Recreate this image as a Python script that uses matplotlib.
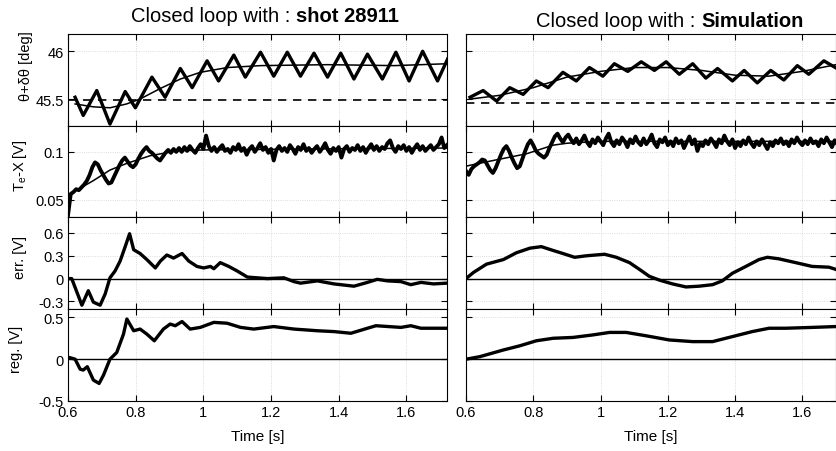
import numpy as np
import matplotlib.pyplot as plt
from matplotlib.ticker import FuncFormatter

plt.rcParams['font.family'] = ['Liberation Sans', 'DejaVu Sans']
plt.rcParams['mathtext.fontset'] = 'custom'
plt.rcParams['mathtext.rm'] = 'Liberation Sans'
plt.rcParams['mathtext.it'] = 'Liberation Sans:italic'

# ---------------- data ----------------
# row 1 : theta + dtheta [deg]
th_shot_t = [0.621, 0.645, 0.685, 0.724, 0.769, 0.799, 0.848, 0.887, 0.932, 0.967,
             1.011, 1.045, 1.090, 1.124, 1.169, 1.208, 1.248, 1.287, 1.327, 1.367,
             1.406, 1.445, 1.485, 1.529, 1.569, 1.608, 1.648, 1.692, 1.722]
th_shot_v = [45.52, 45.33, 45.59, 45.24, 45.58, 45.41, 45.73, 45.52, 45.82, 45.62,
             45.90, 45.69, 45.96, 45.73, 45.99, 45.74, 45.99, 45.74, 45.98, 45.73,
             45.98, 45.71, 45.97, 45.71, 45.99, 45.69, 46.00, 45.69, 45.92]
th_shot_fit_t = [0.621, 0.675, 0.724, 0.773, 0.812, 0.872, 0.932, 0.991, 1.071, 1.169,
                 1.367, 1.564, 1.722]
th_shot_fit_v = [45.45, 45.42, 45.41, 45.45, 45.50, 45.61, 45.71, 45.78, 45.83, 45.85,
                 45.86, 45.85, 45.87]
th_shot_ref = 45.49

th_sim_t = [0.612, 0.651, 0.691, 0.730, 0.770, 0.809, 0.844, 0.888, 0.928, 0.967,
            1.007, 1.041, 1.081, 1.121, 1.160, 1.195, 1.234, 1.274, 1.313, 1.348,
            1.392, 1.427, 1.466, 1.506, 1.545, 1.585, 1.619, 1.664, 1.698]
th_sim_v = [45.52, 45.59, 45.48, 45.62, 45.55, 45.69, 45.62, 45.78, 45.69, 45.83,
            45.74, 45.87, 45.79, 45.89, 45.80, 45.89, 45.76, 45.87, 45.72, 45.82,
            45.69, 45.80, 45.67, 45.80, 45.70, 45.85, 45.76, 45.90, 45.83]
th_sim_fit_t = [0.61, 0.70, 0.80, 0.90, 1.00, 1.10, 1.20, 1.30, 1.40, 1.50, 1.60, 1.70]
th_sim_fit_v = [45.50, 45.54, 45.62, 45.73, 45.79, 45.83, 45.83, 45.80, 45.75, 45.74,
                45.79, 45.86]
th_sim_ref = 45.46

# row 2 : Te - X [V], sampled every 8 ms from 0.6 s
tx_shot_v = [0.034, 0.056, 0.058, 0.061, 0.060, 0.063, 0.066, 0.070, 0.076, 0.084,
             0.089, 0.087, 0.081, 0.076, 0.071, 0.067, 0.068, 0.074, 0.080, 0.086,
             0.091, 0.094, 0.090, 0.086, 0.084, 0.087, 0.093, 0.098, 0.102, 0.105,
             0.101, 0.099, 0.096, 0.093, 0.091, 0.095, 0.099, 0.102, 0.099, 0.103,
             0.100,
             0.104, 0.100, 0.105, 0.101, 0.106, 0.102, 0.099, 0.104, 0.108, 0.103,
             0.117, 0.106, 0.101, 0.105, 0.100, 0.104, 0.107, 0.101, 0.103, 0.099,
             0.105, 0.102, 0.108, 0.101, 0.104, 0.097, 0.103, 0.106, 0.100, 0.104,
             0.109, 0.102, 0.105, 0.099, 0.103, 0.091, 0.102, 0.106, 0.101, 0.104,
             0.100, 0.107, 0.103, 0.098, 0.105, 0.102, 0.108, 0.101, 0.104, 0.099,
             0.103, 0.106, 0.100, 0.104, 0.109, 0.102, 0.098, 0.104, 0.101, 0.105,
             0.094, 0.103, 0.106, 0.100, 0.104, 0.102, 0.107, 0.101, 0.105, 0.099,
             0.104, 0.108, 0.102, 0.106, 0.101, 0.105, 0.103, 0.109, 0.112, 0.104,
             0.100, 0.106, 0.103, 0.107, 0.101, 0.105, 0.099, 0.104, 0.108, 0.102,
             0.106, 0.101, 0.104, 0.107, 0.102, 0.105, 0.108, 0.115, 0.104, 0.107]
tx_sim_v = [0.080, 0.076, 0.082, 0.085, 0.087, 0.089, 0.092, 0.091, 0.086, 0.081,
            0.078, 0.083, 0.090, 0.097, 0.103, 0.106, 0.101, 0.094, 0.088, 0.083,
            0.085, 0.093, 0.101, 0.108, 0.112, 0.107, 0.101, 0.098, 0.096, 0.094,
            0.097, 0.104, 0.110, 0.116, 0.119, 0.114, 0.110, 0.115, 0.118, 0.113,
            0.109, 0.114, 0.108, 0.112, 0.117, 0.110, 0.106, 0.113, 0.109, 0.115,
            0.111, 0.107, 0.114, 0.119, 0.110, 0.106, 0.112, 0.108, 0.115, 0.111,
            0.105, 0.113, 0.109, 0.116, 0.110, 0.107, 0.114, 0.108, 0.112, 0.118,
            0.109, 0.105, 0.113, 0.110, 0.115, 0.107, 0.111, 0.106, 0.114, 0.109,
            0.112, 0.104, 0.110, 0.116, 0.108, 0.113, 0.101, 0.109, 0.106, 0.112,
            0.108, 0.114, 0.110, 0.105, 0.113, 0.109, 0.117, 0.111, 0.107, 0.113,
            0.104, 0.110, 0.106, 0.112, 0.108, 0.115, 0.109, 0.105, 0.111, 0.107,
            0.113, 0.108, 0.103, 0.110, 0.106, 0.112, 0.109, 0.114, 0.108, 0.111,
            0.106, 0.113, 0.109, 0.115, 0.110, 0.107, 0.112, 0.108, 0.114, 0.109,
            0.111, 0.106, 0.113, 0.109, 0.115, 0.110, 0.105, 0.112, 0.108, 0.114,
            0.110]
tx_t = np.linspace(0.6, 1.72, len(tx_shot_v))
tx_shot_fit_t = [0.600, 0.616, 0.675, 0.724, 0.774, 0.843, 0.922, 1.00, 1.30, 1.72]
tx_shot_fit_v = [0.055, 0.058, 0.070, 0.081, 0.088, 0.096, 0.101, 0.102, 0.103, 0.104]
tx_sim_fit_t = [0.600, 0.612, 0.681, 0.780, 0.859, 0.900, 1.00, 1.70]
tx_sim_fit_v = [0.085, 0.086, 0.091, 0.098, 0.107, 0.109, 0.111, 0.111]

# row 3 : err. [V]
err_shot_t = [0.600, 0.611, 0.641, 0.660, 0.675, 0.695, 0.710, 0.724, 0.739, 0.754,
              0.769, 0.782, 0.794, 0.813, 0.833, 0.858, 0.873, 0.892, 0.912, 0.937,
              0.957, 0.981, 1.001, 1.021, 1.031, 1.050, 1.075, 1.100, 1.130, 1.189,
              1.238, 1.268, 1.287, 1.337, 1.386, 1.445, 1.485, 1.514, 1.544, 1.584,
              1.613, 1.643, 1.680, 1.720]
err_shot_v = [0.00, 0.00, -0.35, -0.16, -0.31, -0.35, -0.20, 0.01, 0.10, 0.23,
              0.42, 0.59, 0.38, 0.33, 0.25, 0.14, 0.23, 0.31, 0.27, 0.33,
              0.23, 0.16, 0.14, 0.16, 0.13, 0.21, 0.16, 0.10, 0.02, 0.00,
              0.01, -0.04, -0.06, -0.03, -0.07, -0.10, -0.05, -0.01, -0.03, -0.04,
              -0.08, -0.05, -0.07, -0.06]
err_sim_t = [0.600, 0.622, 0.661, 0.711, 0.750, 0.790, 0.824, 0.859, 0.888, 0.923,
             0.958, 1.012, 1.047, 1.086, 1.116, 1.145, 1.175, 1.214, 1.254, 1.293,
             1.333, 1.362, 1.392, 1.432, 1.471, 1.496, 1.530, 1.580, 1.629, 1.679,
             1.700]
err_sim_v = [0.00, 0.08, 0.19, 0.25, 0.34, 0.40, 0.42, 0.37, 0.33, 0.28,
             0.30, 0.32, 0.28, 0.21, 0.12, 0.03, -0.02, -0.07, -0.11, -0.10,
             -0.08, -0.03, 0.07, 0.16, 0.25, 0.28, 0.26, 0.21, 0.16, 0.15,
             0.12]

# row 4 : reg. [V]
reg_shot_t = [0.600, 0.604, 0.621, 0.636, 0.645, 0.657, 0.675, 0.692, 0.705, 0.724,
              0.744, 0.764, 0.774, 0.794, 0.813, 0.833, 0.855, 0.882, 0.902, 0.917,
              0.937, 0.961, 0.991, 1.031, 1.070, 1.110, 1.149, 1.208, 1.268, 1.337,
              1.386, 1.436, 1.485, 1.510, 1.584, 1.613, 1.643, 1.720]
reg_shot_v = [0.02, 0.02, 0.00, -0.12, -0.13, -0.09, -0.25, -0.29, -0.19, 0.00,
              0.08, 0.30, 0.48, 0.34, 0.36, 0.30, 0.22, 0.36, 0.42, 0.40,
              0.45, 0.36, 0.38, 0.44, 0.43, 0.38, 0.36, 0.39, 0.36, 0.34,
              0.33, 0.31, 0.37, 0.40, 0.38, 0.40, 0.37, 0.37]
reg_sim_t = [0.600, 0.641, 0.711, 0.760, 0.809, 0.859, 0.918, 0.977, 1.027, 1.076,
             1.135, 1.204, 1.274, 1.333, 1.392, 1.451, 1.501, 1.551, 1.629, 1.700]
reg_sim_v = [0.00, 0.03, 0.11, 0.16, 0.22, 0.25, 0.26, 0.29, 0.32, 0.32,
             0.28, 0.23, 0.21, 0.21, 0.27, 0.33, 0.37, 0.37, 0.38, 0.39]

titles = [('Closed loop with : ', 'shot 28911'), ('Closed loop with : ', 'Simulation')]
ylabels = ['θ+δθ [deg]', r'T$_\mathrm{e}$-X [V]', 'err. [V]', 'reg. [V]']
ylims = [(45.22, 46.18), (0.032, 0.127), (-0.40, 0.81), (-0.5, 0.6)]
yticks = [[45.5, 46], [0.05, 0.1], [-0.3, 0, 0.3, 0.6], [-0.5, 0, 0.5]]
xticks = [0.6, 0.8, 1.0, 1.2, 1.4, 1.6]

# ---------------- layout (pixel boxes) ----------------
W, H = 837.0, 452.0
fig = plt.figure(figsize=(W / 100, H / 100), dpi=100)

rows = [(35, 127), (127, 218), (218, 310), (310, 402)]
cols = [(68, 447, 1.72), (466, 836, 1.70)]
label_xy = [(-0.092, 0.66), (-0.103, 0.58), (-0.108, 0.57), (-0.119, 0.57)]

fmt = FuncFormatter(lambda v, p: '%g' % v)
axes = {}
for c, (x0, x1, xmax) in enumerate(cols):
    for r, (y0, y1) in enumerate(rows):
        ax = fig.add_axes([x0 / W, 1 - y1 / H, (x1 - x0) / W, (y1 - y0) / H])
        ax.set_xlim(0.6, xmax)
        ax.set_ylim(*ylims[r])
        ax.set_xticks(xticks)
        ax.set_yticks(yticks[r])
        ax.xaxis.set_major_formatter(fmt)
        ax.yaxis.set_major_formatter(fmt)
        ax.tick_params(direction='in', top=True, right=True, length=4, width=0.8,
                       labelsize=10.5, pad=3,
                       labelleft=(c == 0), labelbottom=(r == 3))
        ax.grid(True, ls=':', color='0.82', lw=0.6)
        for s in ax.spines.values():
            s.set_linewidth(0.8)
        if c == 0:
            ax.set_ylabel(ylabels[r], fontsize=10.5)
            ax.yaxis.set_label_coords(*label_xy[r])
        if r == 3:
            ax.set_xlabel('Time [s]', fontsize=11, labelpad=7)
        axes[(r, c)] = ax

thick = dict(color='k', lw=2.4, solid_joinstyle='round')
thin = dict(color='k', lw=1.1)

# row 1
axes[(0, 0)].plot(th_shot_t, th_shot_v, **thick)
axes[(0, 0)].plot(th_shot_fit_t, th_shot_fit_v, **thin)
axes[(0, 0)].axhline(th_shot_ref, color='k', lw=1.2, ls=(0, (5, 4)))
axes[(0, 1)].plot(th_sim_t, th_sim_v, **thick)
axes[(0, 1)].plot(th_sim_fit_t, th_sim_fit_v, **thin)
axes[(0, 1)].axhline(th_sim_ref, color='k', lw=1.2, ls=(0, (5, 4)))

# row 2
axes[(1, 0)].plot(tx_t, tx_shot_v, color='k', lw=2.8)
axes[(1, 0)].plot(tx_shot_fit_t, tx_shot_fit_v, **thin)
axes[(1, 1)].plot(tx_t, tx_sim_v, color='k', lw=2.8)
axes[(1, 1)].plot(tx_sim_fit_t, tx_sim_fit_v, **thin)

# row 3 and 4
for c, (et, ev, rt, rv) in enumerate([(err_shot_t, err_shot_v, reg_shot_t, reg_shot_v),
                                      (err_sim_t, err_sim_v, reg_sim_t, reg_sim_v)]):
    axes[(2, c)].axhline(0, color='k', lw=1.0)
    axes[(2, c)].plot(et, ev, **thick)
    axes[(3, c)].axhline(0, color='k', lw=1.0)
    axes[(3, c)].plot(rt, rv, **thick)

# titles: normal part + bold part, centred as a whole
renderer = fig.canvas.get_renderer()
for (normal, bold), xc, yb in zip(titles, [265, 670], [22, 27]):
    t1 = fig.text(0, 1 - yb / H, normal, fontsize=14.5, va='baseline', ha='left')
    t2 = fig.text(0, 1 - yb / H, bold, fontsize=14.5, va='baseline', ha='left',
                  fontweight='bold')
    w1 = t1.get_window_extent(renderer).width
    w2 = t2.get_window_extent(renderer).width
    x_start = xc - (w1 + w2) / 2
    t1.set_x(x_start / W)
    t2.set_x((x_start + w1) / W)

fig.savefig('out.png', dpi=100)
